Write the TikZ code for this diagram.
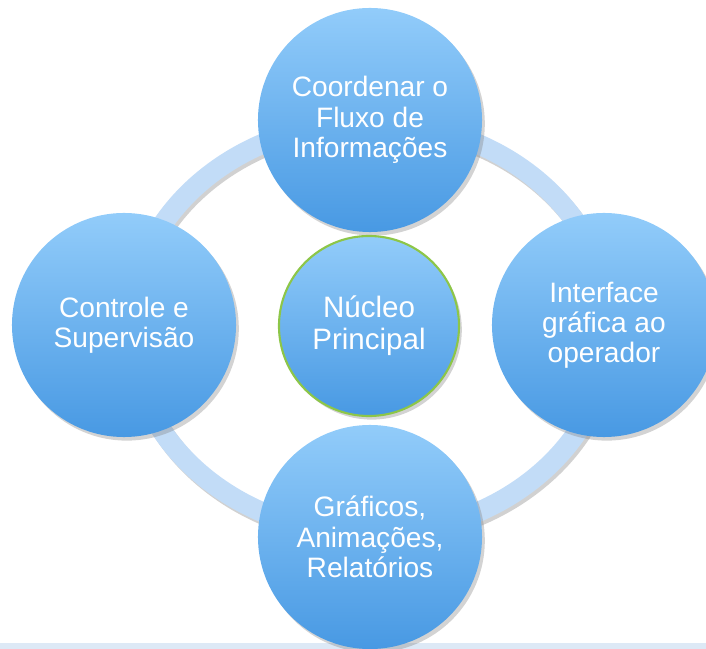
\documentclass[tikz,border=0pt]{standalone}
\usepackage{fontspec}
\setmainfont{Liberation Sans}
\usetikzlibrary{shadows}
\definecolor{bubtop}{RGB}{146,204,250}
\definecolor{bubbot}{RGB}{72,153,227}
\definecolor{ringblue}{RGB}{194,220,247}
\definecolor{coregreen}{RGB}{141,198,72}
\definecolor{stripblue}{RGB}{221,233,246}

\begin{document}
\begin{tikzpicture}[x=0.025cm,y=-0.025cm,
  bubble/.style={circle, minimum size=5.6cm, inner sep=0pt, top color=bubtop,
    bottom color=bubbot, text=white, align=center,
    font=\fontsize{20}{21.5}\selectfont,
    drop shadow={opacity=0.35, shadow xshift=0.07cm, shadow yshift=-0.09cm}},
  core/.style={bubble, minimum size=4.5cm, draw=coregreen, line width=1.5pt,
    font=\fontsize{21}{23}\selectfont}]

\useasboundingbox (0,0) rectangle (706,649);

% Strip at the bottom
\fill[stripblue] (0,643) rectangle (706,649);

% Ring
\coordinate (hub) at (370,328);
\draw[black, opacity=0.18, line width=0.5cm] ([xshift=0.06cm,yshift=-0.08cm]hub) ellipse [x radius=240, y radius=206];
\draw[ringblue, line width=0.5cm] (hub) ellipse [x radius=240, y radius=206];

% Nodes
\node[bubble] (coord) at (370,120) {Coordenar o\\Fluxo de\\Informações};
\node[bubble] (iface) at (604,325) {Interface\\gráfica ao\\operador};
\node[bubble] (graf) at (370,537) {Gráficos,\\Animações,\\Relatórios};
\node[bubble] (ctrl) at (124,325) {Controle e\\Supervisão};
\node[core] (nucleo) at (369,326) {Núcleo\\Principal};
\end{tikzpicture}
\end{document}
